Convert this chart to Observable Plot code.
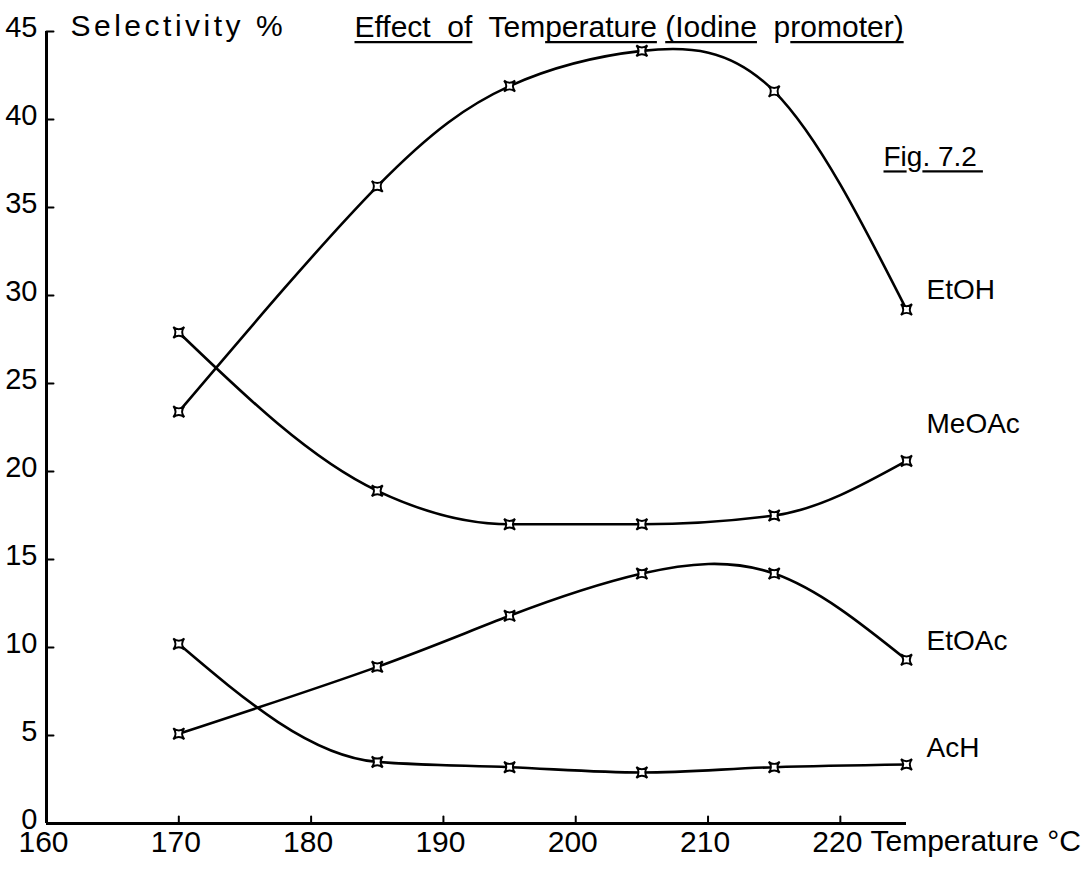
<!DOCTYPE html>
<html>
<head>
<meta charset="utf-8">
<script src="https://cdn.jsdelivr.net/npm/d3@7"></script>
<script src="https://cdn.jsdelivr.net/npm/@observablehq/plot@0.6"></script>
<style>
  body { margin: 0; background: #fff; }
  #chart svg { display: block; }
</style>
</head>
<body>
<div id="chart"></div>
<script>
// Reaction temperature (°C) of each run
const temperatures = [170, 185, 195, 205, 215, 225];

// Selectivity (%) per product at each temperature
const etoh  = [23.4, 36.2, 41.9, 43.9, 41.6, 29.2];
const meoac = [27.9, 18.9, 17.0, 17.0, 17.5, 20.6];
const etoac = [5.1, 8.9, 11.8, 14.2, 14.2, 9.3];
const ach   = [10.2, 3.5, 3.2, 2.9, 3.2, 3.35];

const seriesNames = ["EtOH", "MeOAc", "EtOAc", "AcH"];
const seriesValues = [etoh, meoac, etoac, ach];

const xTicks = [160, 170, 180, 190, 200, 210, 220];
const yTicks = [0, 5, 10, 15, 20, 25, 30, 35, 40, 45];

const titleText = "Effect  of  Temperature (Iodine  promoter)";
const yLabelText = "Selectivity %";
const xLabelText = "Temperature °C";
const figText = "Fig. 7.2";

// Long table: one row per measured point
const rows = seriesNames.flatMap((name, i) =>
  temperatures.map((t, j) => ({series: name, t, v: seriesValues[i][j]}))
);

// Hand-faired curves: rising/peaking series use a natural spline,
// the decaying ones a monotone fit so they level off without ripples
const curveFor = {EtOH: "natural", MeOAc: "monotone-x", EtOAc: "natural", AcH: "monotone-x"};

// Plotting symbol: a small four-pointed cross with concave sides
const crossMarker = {
  draw(context, size) {
    const s = Math.sqrt(size / Math.PI);
    const k = s * 0.2;
    context.moveTo(-s, -s);
    context.quadraticCurveTo(0, -k, s, -s);
    context.quadraticCurveTo(k, 0, s, s);
    context.quadraticCurveTo(0, k, -s, s);
    context.quadraticCurveTo(-k, 0, -s, -s);
    context.closePath();
  }
};

// Short inward tick stroke
const tickShape = {
  draw(context, l) {
    context.moveTo(0, 0);
    context.lineTo(0, -l);
  }
};

// Vertical nudge of each end-of-line label, in pixels
const labelNudge = {EtOH: -20, MeOAc: -37, EtOAc: -19, AcH: -17};

const lines = seriesNames.map((name) =>
  Plot.line(rows.filter((d) => d.series === name), {
    x: "t", y: "v", curve: curveFor[name], stroke: "black", strokeWidth: 2.6
  })
);

const endLabels = seriesNames.map((name, i) => {
  const vals = seriesValues[i];
  return Plot.text([{series: name, t: temperatures[temperatures.length - 1], v: vals[vals.length - 1]}], {
    x: "t", y: "v", text: "series",
    textAnchor: "start", dx: 20, dy: labelNudge[name],
    fontSize: 28, fill: "black"
  });
});

const chart = Plot.plot({
  width: 1090,
  height: 869,
  marginLeft: 46,
  marginRight: 184,
  marginTop: 31,
  marginBottom: 46,
  style: {fontFamily: "'Liberation Sans', Arial, sans-serif", color: "black", background: "white"},
  x: {domain: [160, 225]},
  y: {domain: [0, 45]},
  marks: [
    Plot.axisX({ticks: xTicks, tickSize: 0, tickPadding: 7, fontSize: 30, label: null, dx: -3}),
    Plot.axisY({ticks: yTicks, tickSize: 0, tickPadding: 9, fontSize: 29, label: null, dy: -4}),
    Plot.vector(xTicks.slice(1), {x: (d) => d, y: 0, length: 7, rotate: 0, anchor: "start", shape: tickShape, stroke: "black", strokeWidth: 2}),
    Plot.vector(yTicks.slice(1), {x: 160, y: (d) => d, length: 7, rotate: 90, anchor: "start", shape: tickShape, stroke: "black", strokeWidth: 2}),
    Plot.ruleY([0], {stroke: "black", strokeWidth: 3}),
    Plot.ruleX([160], {stroke: "black", strokeWidth: 3}),
    ...lines,
    Plot.dot(rows, {x: "t", y: "v", r: 5.5, symbol: crossMarker, fill: "white", stroke: "black", strokeWidth: 1.9}),
    ...endLabels,
    Plot.text([yLabelText], {text: (d) => d, frameAnchor: "top-left", textAnchor: "start", lineAnchor: "middle", dx: 24, dy: -5, fontSize: 30}),
    Plot.text([titleText], {text: (d) => d, frameAnchor: "top-left", textAnchor: "start", lineAnchor: "middle", dx: 308, dy: -4, fontSize: 30}),
    Plot.text([figText], {text: (d) => d, frameAnchor: "top-right", textAnchor: "start", lineAnchor: "middle", dx: -23, dy: 126, fontSize: 28}),
    Plot.text([xLabelText], {text: (d) => d, frameAnchor: "bottom-right", textAnchor: "start", lineAnchor: "top", dx: -36, dy: 6, fontSize: 30})
  ]
});

document.getElementById("chart").appendChild(chart);

// Lettering touches: wider spacing on the axis caption, underlined words in the headings
const svg = d3.select(chart);
const findText = (content) =>
  svg.selectAll("text").filter(function () { return this.textContent === content; }).node();

findText(yLabelText).setAttribute("letter-spacing", "3.5");

function underline(content, parts, offset, extend = 0) {
  const node = findText(content);
  const full = node.textContent;
  const parent = d3.select(node.parentNode);
  let from = 0;
  for (const part of parts) {
    const i = full.indexOf(part, from);
    if (i < 0) continue;
    from = i + part.length;
    const a = node.getStartPositionOfChar(i);
    const b = node.getEndPositionOfChar(i + part.length - 1);
    parent.append("line")
      .attr("transform", node.getAttribute("transform"))
      .attr("x1", a.x).attr("x2", b.x + extend)
      .attr("y1", a.y + offset).attr("y2", a.y + offset)
      .attr("stroke", "black").attr("stroke-width", 2.2);
  }
}

underline(titleText, ["Effect  of", "perature", "(Iodine", "romoter)"], 5);
underline(figText, ["F", ". 7.2"], 5, 6);
</script>
</body>
</html>
